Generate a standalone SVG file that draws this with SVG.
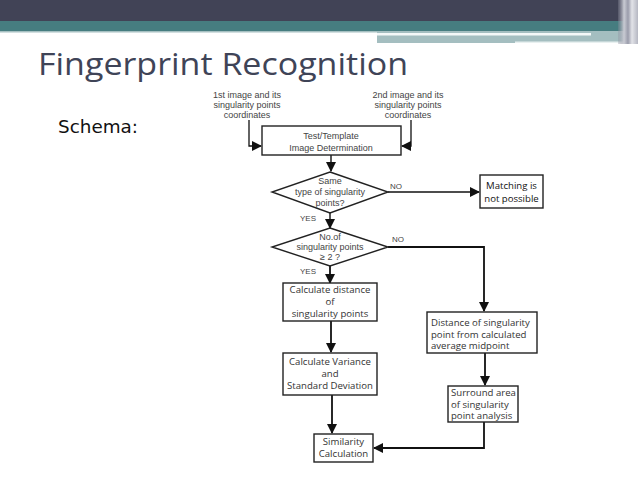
<svg xmlns="http://www.w3.org/2000/svg" width="638" height="479" viewBox="0 0 638 479">
<defs>
<marker id="ah" viewBox="0 0 10 10" refX="9" refY="5" markerWidth="10" markerHeight="10" markerUnits="userSpaceOnUse" orient="auto">
<path d="M0,0 L10,5 L0,10 z" fill="#111"/>
</marker>
<linearGradient id="stripes" x1="0" y1="0" x2="1" y2="0">
<stop offset="0" stop-color="#8a8c9c" stop-opacity="0.3"/>
<stop offset="0.3" stop-color="#c9cbd3"/>
<stop offset="0.5" stop-color="#9a9cab"/>
<stop offset="0.7" stop-color="#e2e3e8"/>
<stop offset="1" stop-color="#b5b7c2"/>
</linearGradient>
</defs>
<style>
.box{fill:#fff;stroke:#222;stroke-width:1.4}
.dia{fill:#fff;stroke:#222;stroke-width:1.4}
.con{fill:none;stroke:#111;stroke-width:1.8}
.sm{font-family:"Liberation Sans",Arial,sans-serif;font-size:9px;fill:#444;text-anchor:middle}
.lb{font-family:"Liberation Sans",Arial,sans-serif;font-size:8px;fill:#444}
.bx{font-family:"Open Sans","Liberation Sans",sans-serif;font-size:9.6px;fill:#333;text-anchor:middle}
.bl{font-family:"Open Sans","Liberation Sans",sans-serif;font-size:9.6px;fill:#333}
</style>
<rect width="638" height="479" fill="#fff"/>
<g id="header">
<rect x="0" y="0" width="638" height="21" fill="#414356"/>
<rect x="0" y="21" width="638" height="10" fill="#467d80"/>
<rect x="0" y="31" width="377" height="1.5" fill="#a6c0c1"/>
<rect x="377" y="31" width="250" height="12" fill="#a4bec0"/>
<rect x="377" y="33" width="214" height="2.5" fill="#f4f8f8"/>
<rect x="515" y="41.5" width="110" height="1.5" fill="#e8f0f0"/>
<rect x="618" y="0" width="20" height="44" fill="url(#stripes)"/>
</g>
<text x="38" y="75" font-family="'Open Sans','Liberation Sans',sans-serif" font-size="31" fill="#3f4457" textLength="370" lengthAdjust="spacingAndGlyphs">Fingerprint Recognition</text>
<text x="58" y="133" font-family="'DejaVu Sans',sans-serif" font-size="17" fill="#111" textLength="80" lengthAdjust="spacingAndGlyphs">Schema:</text>

<g id="connectors">
<path class="con" d="M249,120 V146 H261" marker-end="url(#ah)" style="stroke-width:1.3"/>
<path class="con" d="M411,120 V146 H402" marker-end="url(#ah)" style="stroke-width:1.3"/>
<path class="con" d="M331,155 V171" marker-end="url(#ah)" style="stroke-width:1.4"/>
<path class="con" d="M388,192 H479" marker-end="url(#ah)" style="stroke-width:1.3"/>
<path class="con" d="M330,213 V228" marker-end="url(#ah)" style="stroke-width:1.4"/>
<path class="con" d="M388,247 H484 V311" marker-end="url(#ah)"/>
<path class="con" d="M330,266 V283" marker-end="url(#ah)"/>
<path class="con" d="M331,321 V352" marker-end="url(#ah)"/>
<path class="con" d="M332,395 V433" marker-end="url(#ah)"/>
<path class="con" d="M485,353 V385" marker-end="url(#ah)"/>
<path class="con" d="M484,422 V448 H374" marker-end="url(#ah)"/>
</g>
<g id="labels">
<text class="sm" x="247" y="98">1st image and its</text>
<text class="sm" x="247" y="108">singularity points</text>
<text class="sm" x="247" y="118">coordinates</text>
<text class="sm" x="408" y="98">2nd image and its</text>
<text class="sm" x="408" y="108">singularity points</text>
<text class="sm" x="408" y="118">coordinates</text>
<text class="lb" x="390" y="189" font-size="8.5">NO</text>
<text class="lb" x="300" y="221">YES</text>
<text class="lb" x="392" y="242">NO</text>
<text class="lb" x="300" y="274">YES</text>
</g>
<g id="n-test">
<rect class="box" x="262" y="126" width="139" height="29"/>
<text class="sm" x="331" y="139">Test/Template</text>
<text class="sm" x="331" y="151">Image Determination</text>
</g>
<g id="n-same">
<polygon class="dia" points="330,172 388,192 330,213 272,192"/>
<text class="sm" x="330" y="184" font-size="8.4">Same</text>
<text class="sm" x="330" y="195" font-size="8.4">type of singularity</text>
<text class="sm" x="330" y="206" font-size="8.4">points?</text>
</g>
<g id="n-nomatch">
<rect class="box" x="480" y="175" width="63" height="33"/>
<text class="bx" x="511.5" y="189" style="fill:#111">Matching is</text>
<text class="bx" x="511.5" y="202" style="fill:#111">not possible</text>
</g>
<g id="n-count">
<polygon class="dia" points="330,228 388,247 330,266 272,247"/>
<text class="sm" x="330" y="240" font-size="8.4">No.of</text>
<text class="sm" x="330" y="250" font-size="8.4">singularity points</text>
<text class="sm" x="330" y="260" font-size="8.4">≥ 2 ?</text>
</g>
<g id="n-dist">
<rect class="box" x="283" y="283" width="94" height="38"/>
<text class="bx" x="330" y="293">Calculate distance</text>
<text class="bx" x="330" y="305">of</text>
<text class="bx" x="330" y="317">singularity points</text>
</g>
<g id="n-var">
<rect class="box" x="283" y="353" width="94" height="42"/>
<text class="bx" x="330" y="365">Calculate Variance</text>
<text class="bx" x="330" y="377">and</text>
<text class="bx" x="330" y="389">Standard Deviation</text>
</g>
<g id="n-sim">
<rect class="box" x="314" y="434" width="59" height="28"/>
<text class="bx" x="343.5" y="445">Similarity</text>
<text class="bx" x="343.5" y="457">Calculation</text>
</g>
<g id="n-mid">
<rect class="box" x="427" y="312" width="110" height="41"/>
<text class="bl" x="431" y="326" font-size="10.2">Distance of singularity</text>
<text class="bl" x="431" y="337.5" font-size="10.2">point from calculated</text>
<text class="bl" x="431" y="349" font-size="10.2">average midpoint</text>
</g>
<g id="n-area">
<rect class="box" x="448" y="386" width="70" height="36"/>
<text class="bl" x="451" y="396" font-size="9.2">Surround area</text>
<text class="bl" x="451" y="407.5" font-size="9.2">of singularity</text>
<text class="bl" x="451" y="419" font-size="9.2">point analysis</text>
</g>
</svg>
